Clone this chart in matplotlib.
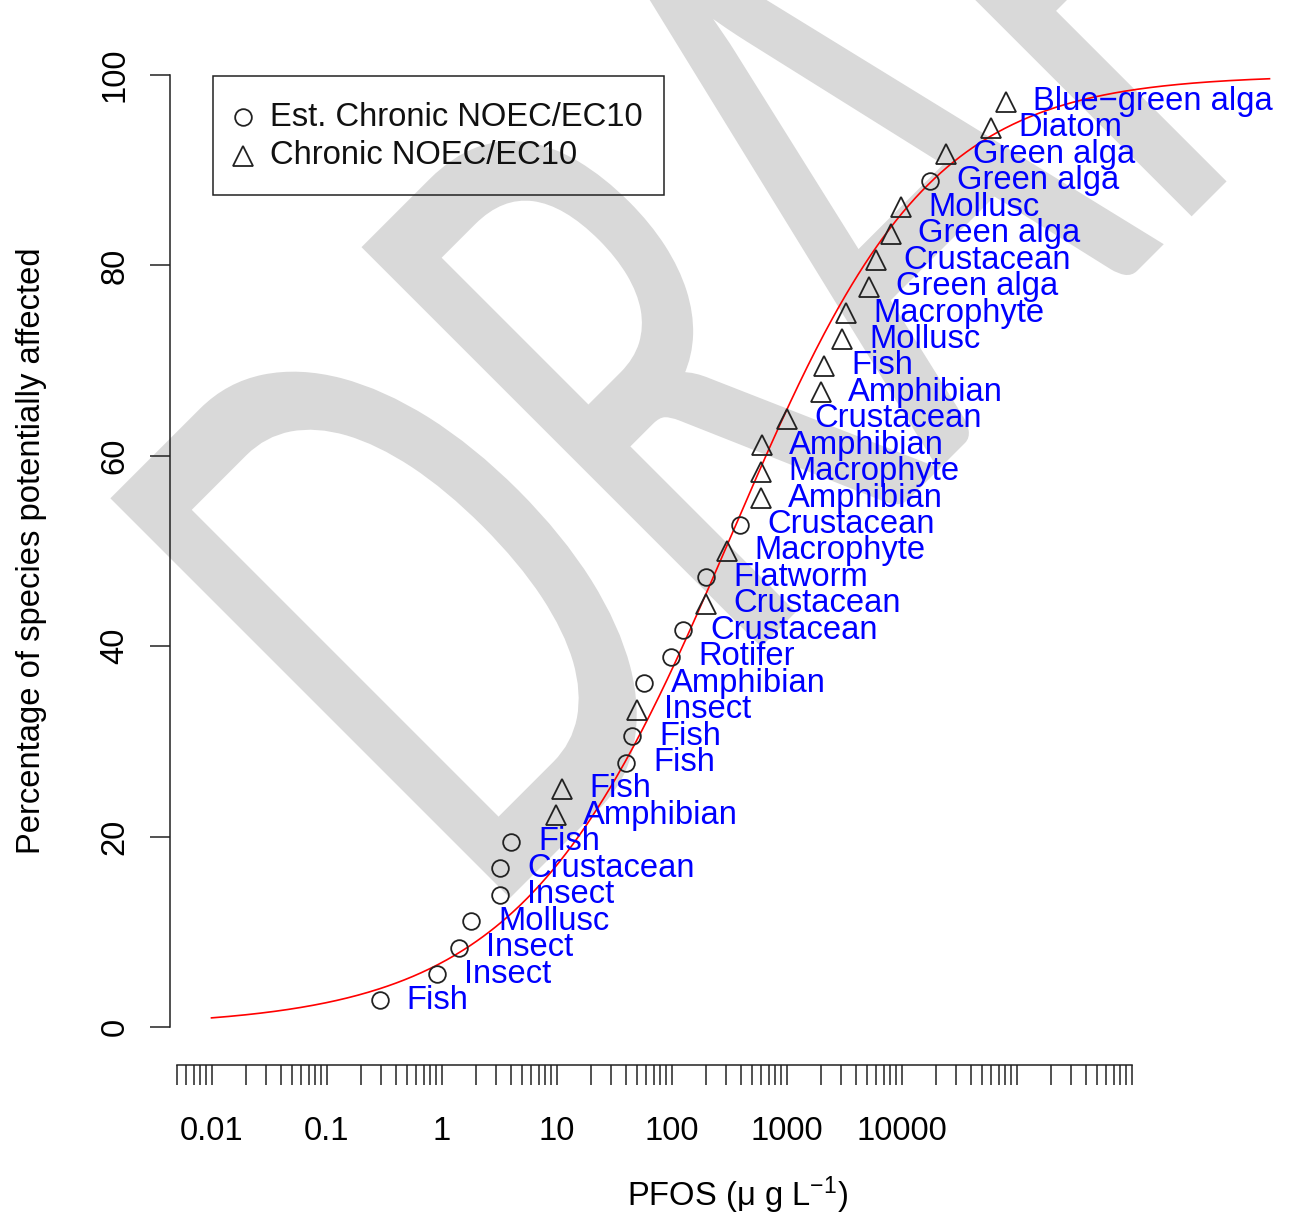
import numpy as np
import matplotlib
matplotlib.use('Agg')
import matplotlib.pyplot as plt
from matplotlib.ticker import FixedLocator, FixedFormatter, NullLocator
from matplotlib.textpath import TextPath
from matplotlib.patches import PathPatch, Rectangle
from matplotlib.font_manager import FontProperties
from matplotlib.transforms import Affine2D, IdentityTransform
from matplotlib.lines import Line2D

plt.rcParams['font.family'] = ['Liberation Sans', 'DejaVu Sans']
plt.rcParams['mathtext.fontset'] = 'custom'
plt.rcParams['mathtext.rm'] = 'Liberation Sans'
plt.rcParams['mathtext.it'] = 'Liberation Sans:italic'

# species data, sorted by concentration (ug/L)
conc = [0.29, 0.91, 1.42, 1.81, 3.23, 3.23, 4.02, 9.9, 11.2, 40.2, 45.4, 50.2,
        57.7, 99, 126, 200, 200, 304, 394, 600, 600, 612, 1010, 1995, 2120,
        3040, 3290, 5220, 6000, 8110, 9900, 17700, 24400, 60000, 81100]
pct = [2.78, 5.56, 8.33, 11.11, 13.89, 16.67, 19.44, 22.22, 25.0, 27.78, 30.56,
       33.33, 36.11, 38.89, 41.67, 44.44, 47.22, 50.0, 52.78, 55.56, 58.33,
       61.11, 63.89, 66.67, 69.44, 72.22, 75.0, 77.78, 80.56, 83.33, 86.11,
       88.89, 91.67, 94.44, 97.22]
kind = ['est', 'est', 'est', 'est', 'est', 'est', 'est', 'chr', 'chr', 'est',
        'est', 'chr', 'est', 'est', 'est', 'chr', 'est', 'chr', 'est', 'chr',
        'chr', 'chr', 'chr', 'chr', 'chr', 'chr', 'chr', 'chr', 'chr', 'chr',
        'chr', 'est', 'chr', 'chr', 'chr']
species = ['Fish', 'Insect', 'Insect', 'Mollusc', 'Insect', 'Crustacean', 'Fish',
           'Amphibian', 'Fish', 'Fish', 'Fish', 'Insect', 'Amphibian', 'Rotifer',
           'Crustacean', 'Crustacean', 'Flatworm', 'Macrophyte', 'Crustacean',
           'Amphibian', 'Macrophyte', 'Amphibian', 'Crustacean', 'Amphibian',
           'Fish', 'Mollusc', 'Macrophyte', 'Green alga', 'Crustacean',
           'Green alga', 'Mollusc', 'Green alga', 'Green alga', 'Diatom',
           'Blue\u2212green alga']

# fitted Burr type III curve (log10 scale): slope, location, shape
burr_c = 1.188
burr_m = 2.674
burr_k = 0.838
curve_range = (0.01, 10 ** 7.2)

FS = 23.6


def burr(L, c, m, k):
    return 100 * (1 + np.exp(-c * (L - m))) ** (-k)


W, H = 1290, 1218
fig = plt.figure(figsize=(W / 100, H / 100), dpi=100)


def fx(px):
    return px / W


def fy(py):
    return 1 - py / H


ax = fig.add_axes([fx(170), fy(1065), (1304 - 170) / W, (1065 - 37) / H])
ax.patch.set_alpha(0)

# DRAFT watermark behind the plot
fp = FontProperties(family='Lato')
tp = TextPath((0, 0), 'DRAFT', size=1, prop=fp)
db = TextPath((0, 0), 'D', size=1, prop=fp).get_extents()
sy = 561 / db.y1
sx = 290 / db.width
tr = Affine2D().translate(-db.x0, 0).scale(sx, sy).rotate_deg(45).translate(510, H - 895)
wm = PathPatch(tr.transform_path(tp), fc='#d9d9d9', ec='#d9d9d9', lw=3,
               transform=IdentityTransform(), zorder=-1)
fig.add_artist(wm)

lx = np.logspace(np.log10(curve_range[0]), np.log10(curve_range[1]), 500)
ax.plot(lx, burr(np.log10(lx), burr_c, burr_m, burr_k), color='red', lw=1.2, zorder=2)

for x, y, t, s in zip(conc, pct, kind, species):
    if t == 'est':
        ax.plot([x], [y], marker='o', ms=12, mfc='none', mec='#222222', mew=1.3, zorder=3)
    else:
        ax.plot([x], [y], marker='^', ms=14.5, mfc='none', mec='#222222', mew=1.3, zorder=3)
    ax.annotate(s, (x, y), xytext=(19.5, 0), textcoords='offset points',
                ha='left', va='center', color='blue', fontsize=FS, zorder=4)

ax.set_xscale('log')
ax.set_xlim(10 ** ((170 - 441.5) / 115), 10 ** ((1304 - 441.5) / 115))
ax.set_ylim(-4, 104)
for sp in ['top', 'right']:
    ax.spines[sp].set_visible(False)
ax.spines['left'].set_bounds(0, 100)
ax.spines['bottom'].set_bounds(0.005, 1e6)
for sp in ['left', 'bottom']:
    ax.spines[sp].set_linewidth(1.1)
    ax.spines[sp].set_color('#222222')

# log ticks 0.005 .. 1e6, labels only on the decades 0.01 .. 10000
xt = []
for n in range(-3, 6):
    for m in range(1, 10):
        v = m * 10.0 ** n
        if 0.0049 < v < 1.1e6:
            xt.append(v)
xt.append(1e6)
dec_labels = {0.01: '0.01', 0.1: '0.1', 1: '1', 10: '10', 100: '100', 1000: '1000', 10000: '10000'}
xl = []
for v in xt:
    s = ''
    for dv, txt in dec_labels.items():
        if abs(v - dv) / dv < 1e-6:
            s = txt
    xl.append(s)
ax.xaxis.set_major_locator(FixedLocator(xt))
ax.xaxis.set_major_formatter(FixedFormatter(xl))
ax.xaxis.set_minor_locator(NullLocator())
ax.set_yticks([0, 20, 40, 60, 80, 100])
ax.tick_params(axis='both', length=14.4, width=1.1, color='#222222', labelsize=FS)
ax.tick_params(axis='x', pad=22)
ax.tick_params(axis='y', pad=14)
for lab in ax.get_yticklabels():
    lab.set_rotation(90)
    lab.set_va('center')

ax.set_xlabel('PFOS (\u03bc g L$^{-1}$)', fontsize=FS, labelpad=20)
ax.set_ylabel('Percentage of species potentially affected', fontsize=FS, labelpad=38)

# legend box
fig.add_artist(Rectangle((fx(212.7), fy(195)), (664 - 212.7) / W, (195 - 75.7) / H,
                         transform=fig.transFigure, fill=False, ec='#222222', lw=1.1))
fig.add_artist(Line2D([fx(243)], [fy(117)], marker='o', ms=12, mfc='none', mec='#222222',
                      mew=1.3, transform=fig.transFigure))
fig.add_artist(Line2D([fx(243)], [fy(156)], marker='^', ms=14.5, mfc='none', mec='#222222',
                      mew=1.3, transform=fig.transFigure))
fig.text(fx(270.5), fy(117), 'Est. Chronic NOEC/EC10', fontsize=FS, va='center', color='#111111')
fig.text(fx(270.5), fy(156), 'Chronic NOEC/EC10', fontsize=FS, va='center', color='#111111')

fig.savefig('out.png', dpi=100)
